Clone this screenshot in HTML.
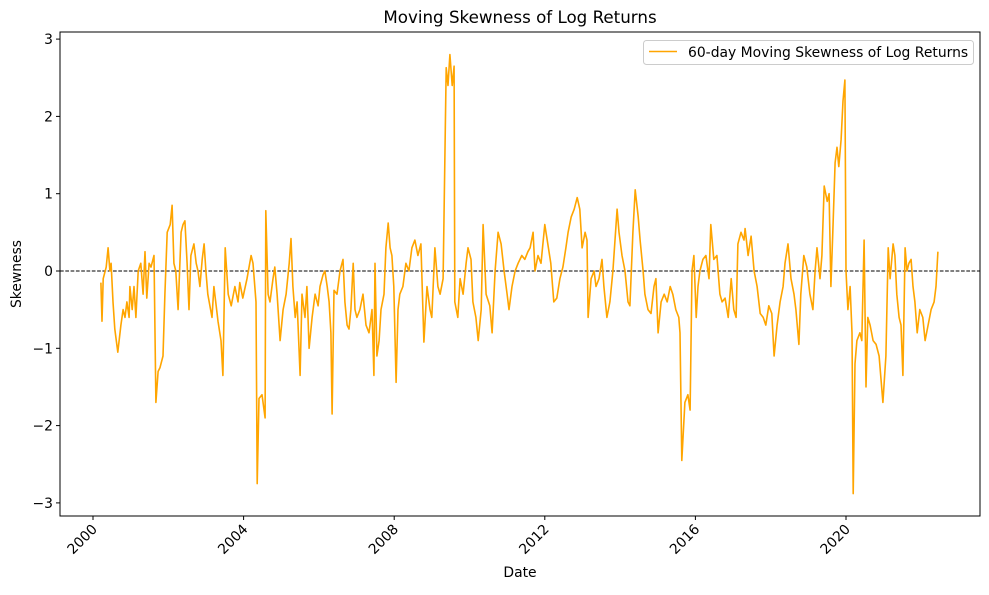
<!DOCTYPE html>
<html><head><meta charset="utf-8"><style>
body{margin:0;background:#fff;}
svg{font-family:"DejaVu Sans","Liberation Sans",sans-serif;}
</style></head><body>
<svg id="chart" width="989" height="590" viewBox="0 0 989 590" xmlns="http://www.w3.org/2000/svg">
<rect x="0" y="0" width="989" height="590" fill="#fff"/>
<text x="520" y="23" text-anchor="middle" font-size="16.7">Moving Skewness of Log Returns</text>
<g id="yticks"></g>
<g id="xticks"></g>
<line x1="60" y1="271" x2="980" y2="271" stroke="#000" stroke-width="1" stroke-dasharray="3.7,1.6" id="zeroline"/>
<g id="series"></g>
<rect x="60" y="32" width="920" height="484" fill="none" stroke="#000" stroke-width="1"/>
<text x="21" y="274" text-anchor="middle" font-size="13.9" transform="rotate(-90 21 274)">Skewness</text>
<text x="520" y="577" text-anchor="middle" font-size="13.9">Date</text>
<g>
<rect x="643.5" y="40.5" width="330" height="24" rx="3" fill="#fff" fill-opacity="0.8" stroke="#ccc"/>
<line x1="649" y1="51.5" x2="677" y2="51.5" stroke="#FFA500" stroke-width="1.5"/>
<text x="688" y="57" font-size="13.9">60-day Moving Skewness of Log Returns</text>
</g>
</svg>
<script>
const dates=[2000.21,2000.24,2000.27,2000.35,2000.40,2000.45,2000.48,2000.53,2000.58,2000.66,2000.74,2000.80,2000.85,2000.90,2000.96,2000.98,2001.04,2001.09,2001.14,2001.20,2001.27,2001.33,2001.38,2001.43,2001.49,2001.54,2001.62,2001.67,2001.73,2001.78,2001.86,2001.91,2001.97,2002.05,2002.10,2002.15,2002.20,2002.26,2002.34,2002.39,2002.44,2002.50,2002.55,2002.60,2002.68,2002.74,2002.79,2002.84,2002.90,2002.95,2003.00,2003.05,2003.16,2003.21,2003.32,2003.40,2003.45,2003.51,2003.59,2003.67,2003.77,2003.85,2003.90,2003.98,2004.09,2004.20,2004.25,2004.33,2004.36,2004.41,2004.49,2004.57,2004.59,2004.65,2004.70,2004.78,2004.83,2004.89,2004.97,2005.05,2005.13,2005.21,2005.26,2005.31,2005.37,2005.42,2005.50,2005.55,2005.63,2005.68,2005.74,2005.82,2005.90,2005.98,2006.03,2006.11,2006.16,2006.22,2006.27,2006.32,2006.35,2006.40,2006.48,2006.56,2006.64,2006.69,2006.75,2006.80,2006.85,2006.91,2006.96,2007.01,2007.09,2007.17,2007.25,2007.33,2007.41,2007.46,2007.49,2007.54,2007.60,2007.65,2007.73,2007.78,2007.84,2007.89,2007.94,2007.99,2008.05,2008.10,2008.15,2008.23,2008.31,2008.39,2008.47,2008.55,2008.63,2008.71,2008.79,2008.87,2008.95,2009.00,2009.08,2009.16,2009.22,2009.30,2009.38,2009.43,2009.48,2009.54,2009.59,2009.61,2009.69,2009.75,2009.83,2009.91,2009.96,2010.04,2010.09,2010.17,2010.23,2010.31,2010.36,2010.44,2010.54,2010.60,2010.68,2010.76,2010.84,2010.92,2011.00,2011.05,2011.13,2011.21,2011.29,2011.39,2011.47,2011.55,2011.61,2011.69,2011.74,2011.82,2011.90,2012.00,2012.08,2012.16,2012.24,2012.32,2012.40,2012.48,2012.56,2012.62,2012.70,2012.78,2012.86,2012.93,2012.99,2013.07,2013.12,2013.15,2013.23,2013.31,2013.36,2013.44,2013.52,2013.57,2013.65,2013.73,2013.81,2013.92,2013.97,2014.05,2014.13,2014.21,2014.26,2014.34,2014.40,2014.48,2014.53,2014.61,2014.66,2014.74,2014.82,2014.90,2014.95,2015.01,2015.09,2015.17,2015.25,2015.33,2015.40,2015.48,2015.56,2015.59,2015.64,2015.72,2015.80,2015.86,2015.91,2015.96,2016.02,2016.07,2016.12,2016.20,2016.28,2016.36,2016.41,2016.49,2016.57,2016.65,2016.71,2016.79,2016.87,2016.95,2017.02,2017.08,2017.13,2017.21,2017.29,2017.32,2017.40,2017.48,2017.56,2017.64,2017.72,2017.80,2017.87,2017.95,2018.03,2018.09,2018.17,2018.25,2018.33,2018.38,2018.46,2018.54,2018.62,2018.67,2018.75,2018.80,2018.88,2018.96,2019.04,2019.12,2019.18,2019.23,2019.31,2019.36,2019.42,2019.50,2019.55,2019.60,2019.65,2019.71,2019.76,2019.81,2019.87,2019.92,2019.97,2020.00,2020.05,2020.11,2020.16,2020.19,2020.24,2020.29,2020.37,2020.42,2020.48,2020.53,2020.58,2020.64,2020.72,2020.80,2020.88,2020.93,2020.98,2021.06,2021.12,2021.17,2021.25,2021.30,2021.35,2021.41,2021.46,2021.51,2021.57,2021.62,2021.67,2021.73,2021.78,2021.83,2021.89,2021.96,2022.04,2022.10,2022.18,2022.26,2022.34,2022.39,2022.44];
const skew=[-0.15,-0.65,-0.1,0.05,0.3,0.0,0.1,-0.4,-0.75,-1.05,-0.7,-0.5,-0.6,-0.4,-0.6,-0.2,-0.5,-0.2,-0.6,0.0,0.1,-0.3,0.25,-0.35,0.1,0.05,0.2,-1.7,-1.3,-1.25,-1.1,-0.3,0.5,0.6,0.85,0.1,0.0,-0.5,0.5,0.6,0.65,0.1,-0.5,0.2,0.35,0.1,0.0,-0.2,0.15,0.35,0.0,-0.3,-0.6,-0.2,-0.65,-0.9,-1.35,0.3,-0.3,-0.45,-0.2,-0.4,-0.15,-0.35,-0.1,0.2,0.1,-0.4,-2.75,-1.65,-1.6,-1.9,0.78,-0.3,-0.4,-0.1,0.05,-0.3,-0.9,-0.5,-0.3,0.1,0.42,-0.2,-0.6,-0.4,-1.35,-0.3,-0.6,-0.2,-1.0,-0.6,-0.3,-0.45,-0.2,-0.05,0.0,-0.2,-0.4,-0.8,-1.85,-0.25,-0.3,0.0,0.15,-0.4,-0.7,-0.75,-0.5,0.1,-0.5,-0.6,-0.5,-0.3,-0.7,-0.8,-0.5,-1.35,0.1,-1.1,-0.9,-0.5,-0.3,0.3,0.62,0.3,0.2,-0.2,-1.44,-0.5,-0.3,-0.2,0.1,0.0,0.3,0.4,0.2,0.35,-0.92,-0.2,-0.5,-0.6,0.3,-0.2,-0.3,-0.1,2.63,2.4,2.8,2.4,2.65,-0.4,-0.6,-0.1,-0.3,0.1,0.3,0.15,-0.4,-0.6,-0.9,-0.5,0.6,-0.3,-0.45,-0.8,0.0,0.5,0.35,0.0,-0.3,-0.5,-0.2,0.0,0.1,0.2,0.15,0.25,0.3,0.5,0.0,0.2,0.1,0.6,0.35,0.1,-0.4,-0.35,-0.1,0.05,0.3,0.5,0.7,0.8,0.95,0.8,0.3,0.5,0.4,-0.6,-0.1,0.0,-0.2,-0.1,0.15,-0.2,-0.6,-0.4,0.0,0.8,0.5,0.2,0.0,-0.4,-0.45,0.5,1.05,0.7,0.4,0.0,-0.3,-0.5,-0.55,-0.2,-0.1,-0.8,-0.4,-0.3,-0.4,-0.2,-0.3,-0.5,-0.6,-0.8,-2.45,-1.7,-1.6,-1.8,0.0,0.2,-0.6,-0.2,0.0,0.15,0.2,-0.1,0.6,0.15,0.2,-0.3,-0.4,-0.35,-0.6,-0.1,-0.5,-0.6,0.35,0.5,0.4,0.55,0.2,0.45,0.0,-0.2,-0.55,-0.6,-0.7,-0.45,-0.55,-1.1,-0.7,-0.4,-0.2,0.1,0.35,-0.1,-0.3,-0.5,-0.95,-0.3,0.2,0.05,-0.3,-0.5,0.0,0.3,-0.1,0.2,1.1,0.9,1.0,-0.2,0.5,1.4,1.6,1.35,1.7,2.2,2.47,0.0,-0.5,-0.2,-0.8,-2.88,-1.2,-0.9,-0.8,-0.9,0.4,-1.5,-0.6,-0.7,-0.9,-0.95,-1.1,-1.4,-1.7,-1.1,0.3,-0.1,0.35,0.2,-0.3,-0.6,-0.7,-1.35,0.3,0.0,0.1,0.15,-0.2,-0.4,-0.8,-0.5,-0.6,-0.9,-0.7,-0.5,-0.4,-0.2,0.25];
const xTickYears=[2000,2004,2008,2012,2016,2020];
const xTickLabels=["2000","2004","2008","2012","2016","2020"];
const yTickValues=[-3,-2,-1,0,1,2,3];
const yTickLabels=["\u22123","\u22122","\u22121","0","1","2","3"];

const NS="http://www.w3.org/2000/svg";
function xs(yr){return 93+(yr-2000)*37.65;}
function ys(v){return 271-v*77.3;}
const yg=document.getElementById('yticks');
yTickValues.forEach((v,i)=>{
  const y=ys(v);
  const l=document.createElementNS(NS,'line');
  l.setAttribute('x1',56);l.setAttribute('x2',60);l.setAttribute('y1',y);l.setAttribute('y2',y);l.setAttribute('stroke','#000');
  
  
  yg.appendChild(l);
  const t=document.createElementNS(NS,'text');
  t.setAttribute('x',53);t.setAttribute('y',y+5);t.setAttribute('text-anchor','end');t.setAttribute('font-size','13.9');
  t.textContent=yTickLabels[i];
  
  
  yg.appendChild(t);
});
const xg=document.getElementById('xticks');
xTickYears.forEach((yr,i)=>{
  const x=xs(yr);
  const l=document.createElementNS(NS,'line');
  l.setAttribute('x1',x);l.setAttribute('x2',x);l.setAttribute('y1',516);l.setAttribute('y2',520);l.setAttribute('stroke','#000');
  
  
  xg.appendChild(l);
  const t=document.createElementNS(NS,'text');
  t.setAttribute('x',x+5);t.setAttribute('y',530);t.setAttribute('text-anchor','end');t.setAttribute('font-size','13.9');
  t.setAttribute('transform','rotate(-45 '+(x+5)+' 530)');
  t.textContent=xTickLabels[i];
  
  
  xg.appendChild(t);
});
const p=document.createElementNS(NS,'path');
p.setAttribute('d',dates.map((d,i)=>(i?'L':'M')+xs(d).toFixed(1)+','+ys(skew[i]).toFixed(1)).join(''));
p.setAttribute('fill','none');p.setAttribute('stroke','#FFA500');p.setAttribute('stroke-width','1.6');p.setAttribute('stroke-linejoin','round');


document.getElementById('series').appendChild(p);
</script>
</body></html>
